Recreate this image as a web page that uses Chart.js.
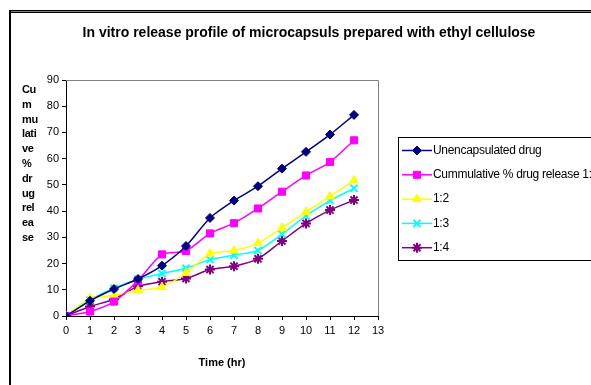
<!DOCTYPE html>
<html>
<head>
<meta charset="utf-8">
<script src="https://cdn.jsdelivr.net/npm/chart.js@4/dist/chart.umd.min.js"></script>
<style>
  html, body { margin: 0; padding: 0; background: #fff; overflow: hidden; }
  #releaseChart { display: block; }
</style>
</head>
<body>
<canvas id="releaseChart" width="591" height="385"></canvas>
<script>
// time points (hr)
const hours = [0, 1, 2, 3, 4, 5, 6, 7, 8, 9, 10, 11, 12];

// cumulative % drug release
const unencapsulated = [0, 5.8, 10.3, 14.1, 19.2, 26.7, 37.4, 44.0, 49.5, 56.2, 62.6, 69.2, 76.7];
const ratio11 = [0, 1.7, 5.5, 13.5, 23.5, 24.8, 31.5, 35.4, 41.0, 47.4, 53.6, 58.7, 67.0];
const ratio12 = [0, 6.8, 7.8, 9.8, 11.0, 16.4, 23.8, 25.0, 27.8, 33.6, 39.7, 45.6, 51.7];
const ratio13 = [0, 6.1, 10.6, 14.0, 16.2, 18.2, 21.5, 23.2, 25.0, 31.2, 38.2, 44.0, 48.7];
const ratio14 = [0, 3.6, 6.4, 11.3, 13.1, 14.3, 17.7, 19.0, 21.8, 28.6, 35.3, 40.4, 44.2];

const seriesLabels = ["Unencapsulated drug", "Cummulative % drug release 1:1", "1:2", "1:3", "1:4"];
const yTitleLines = ["Cu", "m", "mu", "lati", "ve", "%", "dr", "ug", "rel", "ea", "se"];
const chartTitle = "In vitro release profile of microcapsuls prepared with ethyl cellulose";

const FONT = "'Liberation Sans', Arial, sans-serif";

function toPoints(values) {
    return values.map((v, i) => ({ x: hours[i], y: v }));
}

function makeSet(label, values, color, style, radius, bw) {
    return {
        label: label,
        data: toPoints(values),
        borderColor: color,
        backgroundColor: color,
        borderWidth: 1.5,
        pointStyle: style,
        pointRadius: radius,
        pointBorderWidth: bw,
        pointBorderColor: color,
        pointBackgroundColor: color,
        tension: 0.25,
        fill: false
    };
}

// frame, title, stacked y title, plot border and legend
const decorations = {
    id: "decorations",
    beforeDraw(chart) {
        const ctx = chart.ctx;
        ctx.save();
        ctx.fillStyle = "#fff";
        ctx.fillRect(0, 0, chart.width, chart.height);
        // outer chart frame (runs off the right and bottom edge)
        ctx.fillStyle = "#000";
        ctx.fillRect(9, 10, chart.width, 1);
        ctx.fillStyle = "#808080";
        ctx.fillRect(10, 11, chart.width, 1);
        ctx.fillStyle = "#000";
        ctx.fillRect(10, 12, chart.width, 1);
        ctx.fillRect(9, 10, 2, chart.height);
        // title
        ctx.fillStyle = "#000";
        ctx.font = "bold 14px " + FONT;
        ctx.letterSpacing = "0px";
        ctx.textAlign = "center";
        ctx.textBaseline = "middle";
        ctx.fillText(chartTitle, 309, 33);
        // stacked y title
        ctx.font = "bold 11px " + FONT;
        ctx.letterSpacing = "-0.4px";
        ctx.textAlign = "left";
        yTitleLines.forEach((t, i) => ctx.fillText(t, 22, 90 + i * 14.8));
        ctx.restore();
    },
    beforeDatasetsDraw(chart) {
        const { ctx, chartArea } = chart;
        ctx.save();
        ctx.strokeStyle = "#808080";
        ctx.lineWidth = 1;
        ctx.beginPath();
        ctx.moveTo(chartArea.left, chartArea.top + 0.5);
        ctx.lineTo(chartArea.right + 0.5, chartArea.top + 0.5);
        ctx.lineTo(chartArea.right + 0.5, chartArea.bottom);
        ctx.stroke();
        ctx.restore();
    },
    afterDraw(chart) {
        const ctx = chart.ctx;
        ctx.save();
        ctx.strokeStyle = "#000";
        ctx.lineWidth = 1;
        ctx.strokeRect(398.5, 137.5, 300, 123);
        ctx.font = "12px " + FONT;
        ctx.letterSpacing = "-0.3px";
        ctx.textAlign = "left";
        ctx.textBaseline = "middle";
        chart.data.datasets.forEach((ds, i) => {
            const y = 150.5 + i * 24.3;
            ctx.strokeStyle = ds.borderColor;
            ctx.fillStyle = ds.borderColor;
            ctx.lineWidth = 1.5;
            ctx.beginPath();
            ctx.moveTo(402, y);
            ctx.lineTo(432, y);
            ctx.stroke();
            ctx.lineWidth = ds.pointBorderWidth;
            Chart.helpers.drawPoint(ctx, {
                pointStyle: ds.pointStyle,
                radius: ds.pointRadius,
                rotation: 0,
                borderWidth: ds.pointBorderWidth
            }, 417, y);
            ctx.fillStyle = "#000";
            ctx.fillText(ds.label, 433, y);
        });
        ctx.restore();
    }
};

const ctx = document.getElementById("releaseChart").getContext("2d");
Chart.defaults.font.family = FONT;
Chart.defaults.color = "#000";

new Chart(ctx, {
    type: "line",
    data: {
        datasets: [
            makeSet(seriesLabels[0], unencapsulated, "#000080", "rectRot", 4.5, 1),
            makeSet(seriesLabels[1], ratio11, "#FF00FF", "rect", 5, 1),
            makeSet(seriesLabels[2], ratio12, "#FFFF00", "triangle", 5, 1),
            makeSet(seriesLabels[3], ratio13, "#00FFFF", "crossRot", 5, 2),
            makeSet(seriesLabels[4], ratio14, "#800080", "star", 5, 2)
        ]
    },
    options: {
        responsive: false,
        animation: false,
        layout: { padding: { left: 0, top: 80, right: 213, bottom: 15 } },
        plugins: {
            legend: { display: false },
            title: { display: false },
            tooltip: { enabled: false }
        },
        scales: {
            x: {
                type: "linear",
                min: 0,
                max: 13,
                ticks: { stepSize: 1, font: { size: 11 }, padding: 4, color: "#000" },
                grid: { drawOnChartArea: false, tickLength: 4, color: "#000" },
                border: { color: "#000", width: 1 },
                title: {
                    display: true,
                    text: "Time (hr)",
                    font: { size: 11, weight: "bold" },
                    padding: { top: 4, bottom: 0 }
                },
                afterFit(scale) { scale.height = 54; }
            },
            y: {
                min: 0,
                max: 90,
                ticks: { stepSize: 10, font: { size: 11 }, padding: 3, color: "#000" },
                grid: { drawOnChartArea: false, tickLength: 4, color: "#000" },
                border: { color: "#000", width: 1 },
                afterFit(scale) { scale.width = 66; }
            }
        }
    },
    plugins: [decorations]
});
</script>
</body>
</html>
